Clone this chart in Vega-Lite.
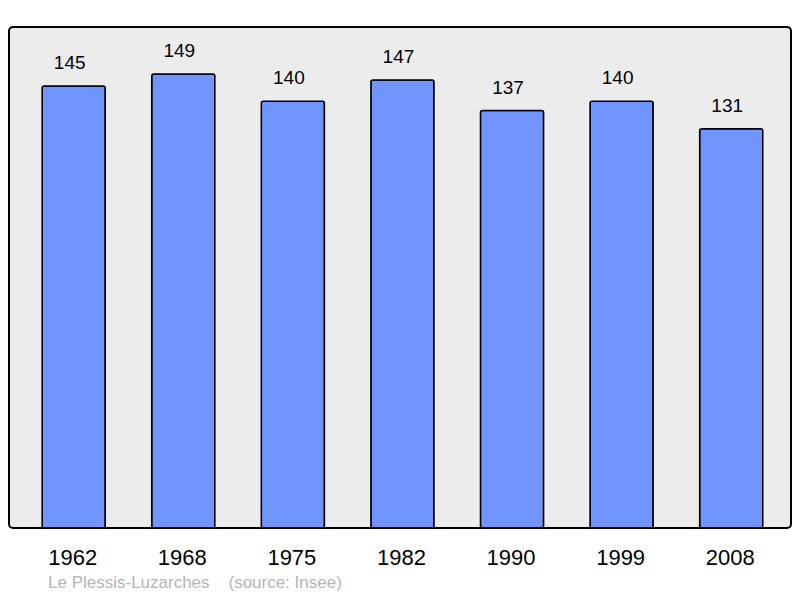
{
  "$schema": "https://vega.github.io/schema/vega-lite/v6.json",
  "width": 782,
  "height": 501,
  "autosize": "none",
  "padding": {"left": 9, "top": 27, "right": 9, "bottom": 70},
  "background": "white",
  "config": {
    "font": "Liberation Sans",
    "view": {"fill": "#ececec", "stroke": "#000000", "strokeWidth": 2, "cornerRadius": 4}
  },
  "title": {
    "text": "Le Plessis-Luzarches\u00a0\u00a0\u00a0\u00a0(source: Insee)",
    "orient": "bottom",
    "anchor": "start",
    "dx": 39,
    "offset": 7,
    "fontSize": 17,
    "fontWeight": "normal",
    "color": "#b5b5b5",
    "font": "Liberation Sans"
  },
  "data": {
    "values": [
      {"year": "1962", "pop": 145},
      {"year": "1968", "pop": 149},
      {"year": "1975", "pop": 140},
      {"year": "1982", "pop": 147},
      {"year": "1990", "pop": 137},
      {"year": "1999", "pop": 140},
      {"year": "2008", "pop": 131}
    ]
  },
  "encoding": {
    "x": {
      "field": "year", "type": "nominal", "sort": null,
      "scale": {"paddingInner": 0.424, "paddingOuter": 0.28, "align": 0.54},
      "axis": {"title": null, "labelAngle": 0, "domain": false, "ticks": false, "tickSize": 0,
               "labelFontSize": 22, "labelColor": "#000000", "labelBaseline": "alphabetic", "labelPadding": 36, "labelOffset": -1}
    },
    "y": {
      "field": "pop", "type": "quantitative",
      "scale": {"domain": [0, 164.4], "nice": false, "zero": true},
      "axis": null
    }
  },
  "layer": [
    {
      "mark": {"type": "bar", "fill": "#7095ff", "stroke": "#000000", "strokeWidth": 1.5, "cornerRadius": 2}
    },
    {
      "mark": {"type": "text", "baseline": "alphabetic", "dy": -17, "dx": -4, "fontSize": 19, "color": "#000000"},
      "encoding": {"text": {"field": "pop", "type": "quantitative"}}
    }
  ]
}
